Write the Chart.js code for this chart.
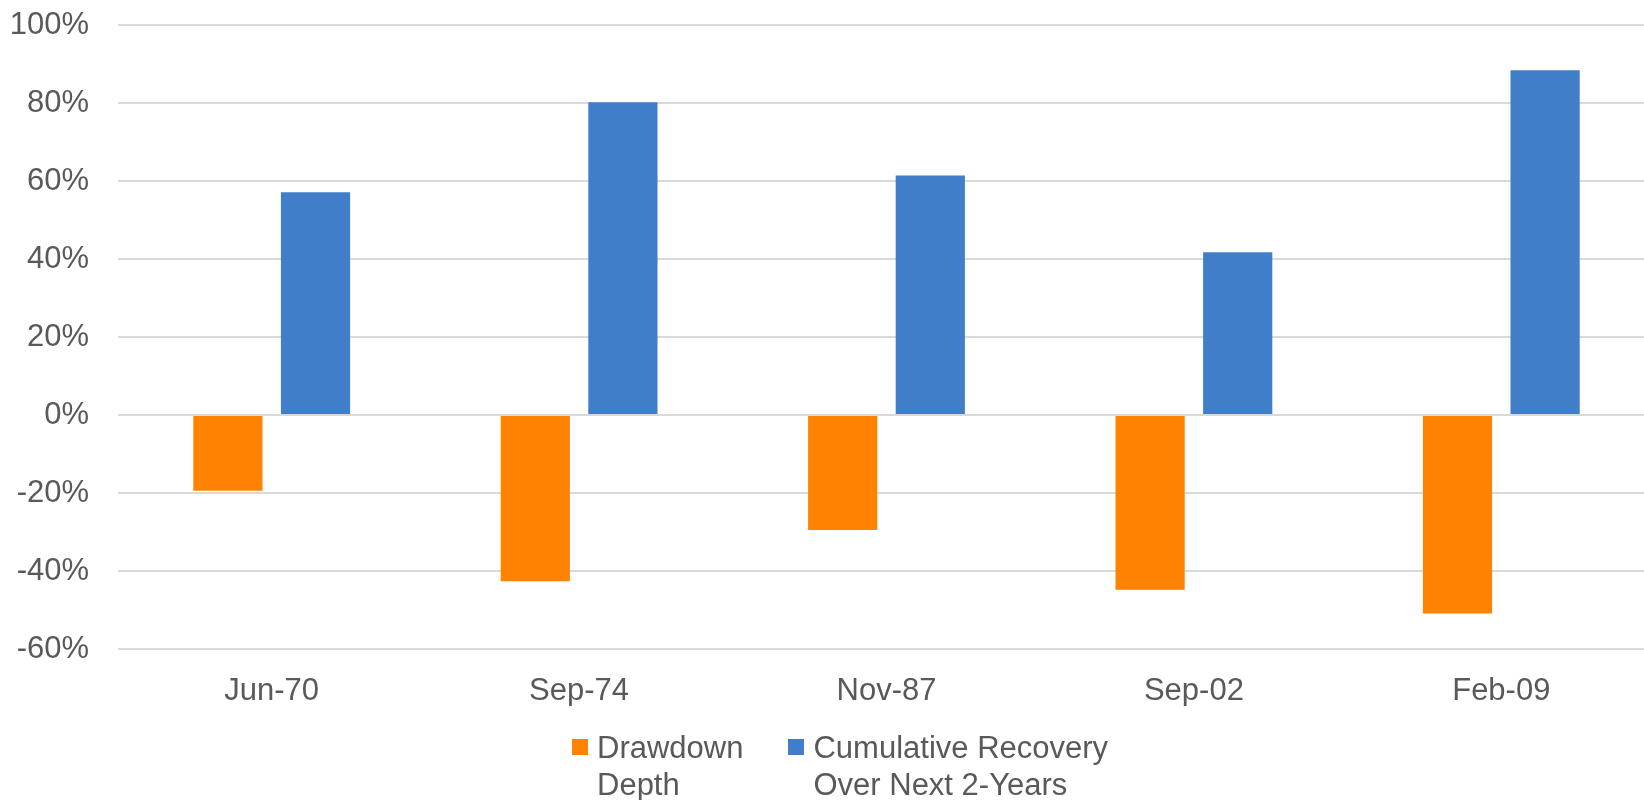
<!DOCTYPE html>
<html>
<head>
<meta charset="utf-8">
<script src="https://cdn.jsdelivr.net/npm/chart.js@4"></script>
<style>
    html, body { margin: 0; padding: 0; background: #ffffff; overflow: hidden; }
    .container_chart { position: relative; width: 1660px; height: 800px; }
    .legenda { position: absolute; top: 730px; left: 572px; display: flex; font-family: "Liberation Sans", Arial, sans-serif; font-size: 31px; line-height: 36.5px; color: #595959; }
    .legenda_item { display: flex; align-items: flex-start; margin-right: 45px; }
    .legenda_cor { width: 16px; height: 16px; margin-top: 9px; margin-right: 9px; }
</style>
</head>
<body>
<div class="container_chart">
    <canvas id="myChart1"></canvas>
    <div class="legenda" id="legenda"></div>
</div>
<script>
const categorias = ['Jun-70', 'Sep-74', 'Nov-87', 'Sep-02', 'Feb-09'];
const drawdown = [-19.4, -42.6, -29.5, -44.8, -50.9];
const recuperacao = [57.1, 80.2, 61.4, 41.7, 88.4];
const legendaDrawdown = ['Drawdown', 'Depth'];
const legendaRecuperacao = ['Cumulative Recovery', 'Over Next 2-Years'];

const corTexto = '#595959';
const fonte = 'Liberation Sans, Arial, sans-serif';

const ctx1 = document.getElementById('myChart1');

var graficoBarras1 = new Chart(ctx1, {
    type: 'bar',
    data: {
        labels: categorias,
        datasets: [{
            label: legendaDrawdown,
            data: drawdown,
            backgroundColor: '#ff8300'
        }, {
            label: legendaRecuperacao,
            data: recuperacao,
            backgroundColor: '#407ec9'
        }]
    },
    options: {
        responsive: true,
        maintainAspectRatio: false,
        animation: false,
        categoryPercentage: 0.57,
        barPercentage: 0.79,
        layout: {
            padding: { top: 25, left: 12, right: 5, bottom: 94 }
        },
        plugins: {
            legend: { display: false },
            tooltip: { enabled: false }
        },
        scales: {
            y: {
                min: -60,
                max: 100,
                ticks: {
                    stepSize: 20,
                    color: corTexto,
                    padding: 29,
                    font: { family: fonte, size: 31 },
                    callback: function (valor) { return valor + '%'; }
                },
                grid: {
                    color: '#d9d9d9',
                    lineWidth: 2,
                    drawTicks: false
                },
                border: { display: false },
                afterFit: function (eixo) {
                    // largura fixa do eixo e sem folga extra em cima/embaixo
                    eixo.width = 106;
                    eixo.paddingTop = 0;
                    eixo.paddingBottom = 0;
                }
            },
            x: {
                ticks: {
                    color: corTexto,
                    padding: 24,
                    font: { family: fonte, size: 31 }
                },
                grid: { display: false, drawTicks: false },
                border: { display: false },
                afterFit: function (eixo) {
                    eixo.height = 57;
                    eixo.paddingLeft = 0;
                    eixo.paddingRight = 0;
                }
            }
        }
    }
});

// legenda em HTML porque os rótulos têm duas linhas
const legenda = document.getElementById('legenda');
graficoBarras1.data.datasets.forEach(function (ds) {
    const item = document.createElement('div');
    item.className = 'legenda_item';
    const cor = document.createElement('div');
    cor.className = 'legenda_cor';
    cor.style.background = ds.backgroundColor;
    const texto = document.createElement('div');
    texto.innerHTML = ds.label.join('<br>');
    item.appendChild(cor);
    item.appendChild(texto);
    legenda.appendChild(item);
});
</script>
</body>
</html>
